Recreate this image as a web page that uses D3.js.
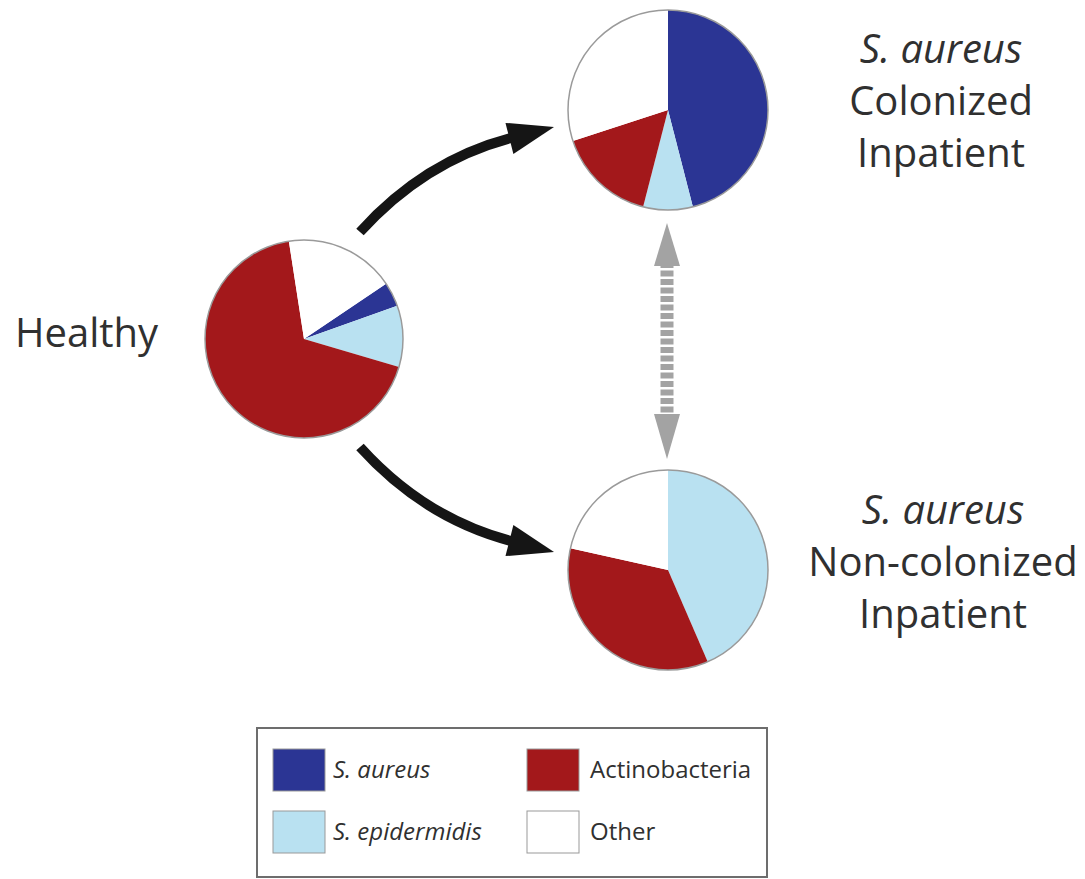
<!DOCTYPE html>
<html>
<head>
<meta charset="utf-8">
<script src="https://cdn.jsdelivr.net/npm/d3@7"></script>
<style>
  html, body { margin: 0; padding: 0; background: #fff; }
  svg { display: block; font-family: "Open Sans", "Noto Sans", sans-serif; }
</style>
</head>
<body>
<div id="chart"></div>
<script>
// Pie groups and their composition (% of reads)
const groups = ["Healthy", "Colonized", "Non-colonized"];
const taxa = ["S. aureus", "S. epidermidis", "Actinobacteria", "Other"];
const sAureus = [4, 46, 0];
const sEpidermidis = [10, 8, 43.5];
const actinobacteria = [68, 16, 35];
const other = [18, 30, 21.5];

const width = 1085, height = 879;
const colors = d3.scaleOrdinal()
    .domain(taxa)
    .range(["#2b3594", "#b9e1f1", "#a3181b", "#ffffff"]);

// where each pie sits (and its rotation in degrees)
const layout = {
    Healthy:         { cx: 304, cy: 339, r: 99, rot: 56 },
    Colonized:       { cx: 668, cy: 110, r: 100, rot: 0 },
    "Non-colonized": { cx: 668, cy: 570, r: 100, rot: 0 }
};

const svg = d3.select("#chart").append("svg")
    .attr("width", width).attr("height", height);

const arc = d3.arc().innerRadius(0);

groups.forEach((g, i) => {
    const L = layout[g];
    const vals = [sAureus[i], sEpidermidis[i], actinobacteria[i], other[i]];
    const a0 = L.rot * Math.PI / 180;
    const pie = d3.pie().sort(null).value(d => d.v)
        .startAngle(a0).endAngle(a0 + 2 * Math.PI);
    const gp = svg.append("g").attr("transform", `translate(${L.cx},${L.cy})`);
    gp.selectAll("path")
        .data(pie(vals.map((v, k) => ({ taxon: taxa[k], v }))))
        .join("path")
        .attr("d", arc.outerRadius(L.r))
        .attr("fill", d => colors(d.data.taxon));
    gp.append("circle").attr("r", L.r)
        .attr("fill", "none").attr("stroke", "#9a9a9a").attr("stroke-width", 1.5);
});

// Curved black arrows from Healthy to the inpatient groups
function curvedArrow(p0, c, p1) {
    const headLen = 46, headHalf = 16;
    const dx = p1[0] - c[0], dy = p1[1] - c[1];
    const len = Math.hypot(dx, dy);
    const ux = dx / len, uy = dy / len;
    const base = [p1[0] - ux * headLen, p1[1] - uy * headLen];
    const shaftEnd = [p1[0] - ux * (headLen - 4), p1[1] - uy * (headLen - 4)];
    const p = d3.path();
    p.moveTo(p0[0], p0[1]);
    p.quadraticCurveTo(c[0], c[1], shaftEnd[0], shaftEnd[1]);
    svg.append("path").attr("d", p.toString())
        .attr("fill", "none").attr("stroke", "#151515").attr("stroke-width", 10);
    svg.append("polygon")
        .attr("points", [
            p1,
            [base[0] - uy * headHalf, base[1] + ux * headHalf],
            [base[0] + uy * headHalf, base[1] - ux * headHalf]
        ].map(d => d.join(",")).join(" "))
        .attr("fill", "#151515");
}
curvedArrow([360, 232], [425, 160], [554, 127]);
curvedArrow([360, 447], [425, 519], [554, 552]);

// Dashed grey double arrow between inpatient pies
const gx = 667;
svg.append("line")
    .attr("x1", gx).attr("x2", gx).attr("y1", 262).attr("y2", 418)
    .attr("stroke", "#a3a3a3").attr("stroke-width", 13)
    .attr("stroke-dasharray", "6,2.5");
svg.append("polygon")
    .attr("points", `${gx},223 ${gx - 13},266 ${gx + 13},266`)
    .attr("fill", "#a3a3a3");
svg.append("polygon")
    .attr("points", `${gx},459 ${gx - 13},414 ${gx + 13},414`)
    .attr("fill", "#a3a3a3");

// Group labels
const labelColor = "#303030";
svg.append("text").attr("x", 15).attr("y", 347)
    .attr("font-size", 40).attr("fill", labelColor).text("Healthy");

function groupLabel(x, y0, line2) {
    const t = svg.append("text").attr("text-anchor", "middle")
        .attr("font-size", 40).attr("fill", labelColor);
    t.append("tspan").attr("x", x).attr("y", y0).attr("font-style", "italic").text("S. aureus");
    t.append("tspan").attr("x", x).attr("y", y0 + 52).text(line2);
    t.append("tspan").attr("x", x).attr("y", y0 + 104).text("Inpatient");
}
groupLabel(941, 63, "Colonized");
groupLabel(943, 524, "Non-colonized");

// Legend
const legend = svg.append("g");
legend.append("rect")
    .attr("x", 257).attr("y", 728).attr("width", 510).attr("height", 149)
    .attr("fill", "#fff").attr("stroke", "#6d6d6d").attr("stroke-width", 2);
const legX = [273, 527], legY = [749, 811];
taxa.forEach((t, k) => {
    const col = k < 2 ? 0 : 1, row = k % 2;
    const item = legend.append("g")
        .attr("transform", `translate(${legX[col]},${legY[row]})`);
    item.append("rect").attr("width", 52).attr("height", 42)
        .attr("fill", colors(t)).attr("stroke", "#999").attr("stroke-width", 1);
    item.append("text").attr("x", col ? 63 : 60).attr("y", 29)
        .attr("font-size", 24).attr("fill", labelColor)
        .attr("font-style", col ? "normal" : "italic")
        .text(t);
});
</script>
</body>
</html>
